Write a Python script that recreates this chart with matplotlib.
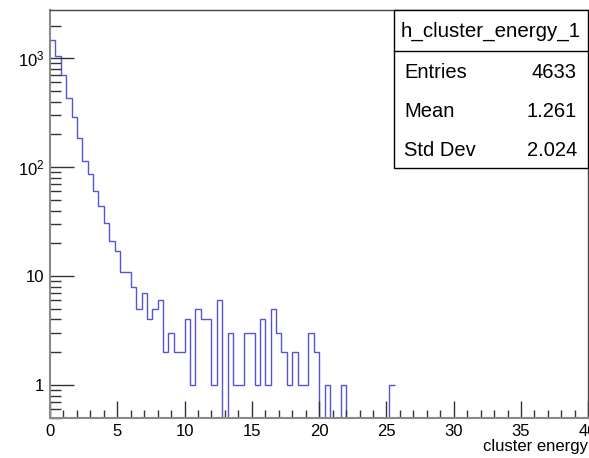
import matplotlib
matplotlib.use('Agg')
import matplotlib.pyplot as plt
from matplotlib.ticker import FixedLocator, FuncFormatter, MultipleLocator
from matplotlib.patches import Rectangle
import numpy as np

plt.rcParams['font.family'] = ['Liberation Sans', 'DejaVu Sans']
plt.rcParams['mathtext.fontset'] = 'custom'
plt.rcParams['mathtext.rm'] = 'Liberation Sans'
plt.rcParams['mathtext.it'] = 'Liberation Sans'

# histogram: 0.4 wide bins starting at 0, last filled bin is 25.2-25.6
bin_width = 0.4
counts = [1470, 1050, 702, 431, 290, 186, 114, 86, 60, 44,
          31, 21, 17, 11, 11, 8, 5, 7, 4, 5,
          6, 2, 3, 2, 2, 4, 1, 5, 4, 4,
          1, 6, 0, 3, 1, 1, 3, 3, 1, 4,
          1, 5, 3, 2, 1, 2, 1, 1, 3, 2,
          0, 1, 0, 0, 1, 0, 0, 0, 0, 0,
          0, 0, 0, 1]
hist_name = 'h_cluster_energy_1'
stats_labels = ['Entries', 'Mean', 'Std Dev']
stats_values = ['4633', '1.261', '2.024']
xlabel = 'cluster energy'

counts = np.array(counts, dtype=float)
edges = np.arange(len(counts) + 1) * bin_width
# zero bins drop off the bottom of the log axis like ROOT does
draw = np.where(counts > 0, counts, 1e-3)

W, H = 589, 458
fig = plt.figure(figsize=(W / 100, H / 100), dpi=100)
ax = fig.add_axes([50 / W, (H - 418.3) / H, (588.3 - 50) / W, (418.3 - 10) / H])

ax.stairs(draw, edges, color='#5555d2', linewidth=1.0, baseline=None)

ax.set_yscale('log')
ax.set_xlim(0, 40)
ax.set_ylim(0.494, 2780)

ax.xaxis.set_major_locator(MultipleLocator(5))
ax.xaxis.set_minor_locator(MultipleLocator(1))
ax.yaxis.set_major_locator(FixedLocator([1, 10, 100, 1000]))
minors = [m * 10.0 ** e for e in range(-1, 4) for m in range(2, 10)]
ax.yaxis.set_minor_locator(FixedLocator(minors))
ax.yaxis.set_minor_formatter(FuncFormatter(lambda v, p: ''))

def ylab(v, p):
    if v == 1:
        return '1'
    if v == 10:
        return '10'
    return '$10^{%d}$' % round(np.log10(v))
ax.yaxis.set_major_formatter(FuncFormatter(ylab))

ax.tick_params(axis='both', which='both', direction='in', colors='#333333',
               labelcolor='black', labelsize=12, pad=4)
ax.tick_params(axis='y', which='major', length=17, width=1)
ax.tick_params(axis='y', which='minor', length=8, width=1)
ax.tick_params(axis='x', which='major', length=12, width=1)
ax.tick_params(axis='x', which='minor', length=6, width=1)

for side in ['left', 'bottom']:
    ax.spines[side].set_color('#8a8a8a')
    ax.spines[side].set_linewidth(1.5)
for side in ['top', 'right']:
    ax.spines[side].set_color('#444444')
    ax.spines[side].set_linewidth(1.0)

ax.set_xlabel(xlabel, loc='right', fontsize=12, labelpad=0)

# stats box in the top right corner
bx0, by0, bx1, by1 = 394, 10, 588.3, 168.3
fig.patches.append(Rectangle((bx0 / W, 1 - by1 / H), (bx1 - bx0) / W, (by1 - by0) / H,
                             transform=fig.transFigure, facecolor='white',
                             edgecolor='black', linewidth=1.0, zorder=5))
fig.add_artist(plt.Line2D([bx0 / W, bx1 / W], [1 - 51 / H, 1 - 51 / H],
                          transform=fig.transFigure, color='black', linewidth=1.0, zorder=6))
fig.text((bx0 + bx1) / 2 / W, 1 - 31 / H, hist_name, ha='center', va='center',
         fontsize=14.8, zorder=7)
for i, (lab, val) in enumerate(zip(stats_labels, stats_values)):
    yy = 1 - (72.5 + i * 39) / H
    fig.text(404 / W, yy, lab, ha='left', va='center', fontsize=14.5, zorder=7)
    fig.text(577 / W, yy, val, ha='right', va='center', fontsize=14.5, zorder=7)

fig.savefig('out.png', dpi=100)
